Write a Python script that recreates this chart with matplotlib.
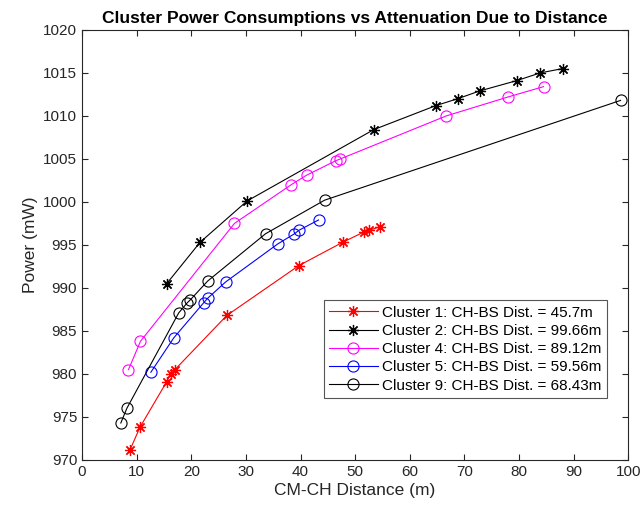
import matplotlib
matplotlib.use("Agg")
import matplotlib.pyplot as plt

plt.rcParams['font.family'] = ['Liberation Sans', 'DejaVu Sans']

# CM-CH distance (m) and power (mW) per cluster
c1_x = [8.8, 10.6, 15.5, 16.2, 17.0, 26.5, 39.7, 47.7, 51.6, 52.5, 54.5]
c1_y = [971.2, 973.8, 979.1, 980.0, 980.5, 986.8, 992.6, 995.3, 996.5, 996.7, 997.1]

c2_x = [15.5, 21.6, 30.2, 53.4, 64.8, 68.8, 72.8, 79.6, 83.9, 88.0]
c2_y = [990.5, 995.3, 1000.1, 1008.4, 1011.2, 1012.0, 1012.9, 1014.1, 1015.0, 1015.5]

c4_x = [8.5, 10.7, 27.9, 38.3, 41.1, 46.5, 47.3, 66.7, 78.0, 84.5]
c4_y = [980.5, 983.8, 997.5, 1002.0, 1003.1, 1004.8, 1005.0, 1010.0, 1012.2, 1013.4]

c5_x = [12.6, 16.8, 22.3, 23.0, 26.3, 35.8, 38.9, 39.7, 43.3]
c5_y = [980.2, 984.2, 988.3, 988.8, 990.7, 995.1, 996.3, 996.7, 997.9]

c9_x = [7.1, 8.2, 17.7, 19.3, 19.8, 23.0, 33.6, 44.4, 98.6]
c9_y = [974.3, 976.0, 987.1, 988.3, 988.6, 990.8, 996.3, 1000.2, 1011.8]

labels = ["Cluster 1: CH-BS Dist. = 45.7m",
          "Cluster 2: CH-BS Dist. = 99.66m",
          "Cluster 4: CH-BS Dist. = 89.12m",
          "Cluster 5: CH-BS Dist. = 59.56m",
          "Cluster 9: CH-BS Dist. = 68.43m"]

star = (8, 2, 0)  # matlab-like asterisk

fig = plt.figure(figsize=(6.41, 5.09), dpi=100)
ax = fig.add_axes([0.128, 0.0963, 0.852, 0.845])

ax.plot(c1_x, c1_y, color='red', marker=star, markersize=8, linewidth=0.8,
        markeredgewidth=0.9, label=labels[0])
ax.plot(c2_x, c2_y, color='black', marker=star, markersize=8, linewidth=0.8,
        markeredgewidth=0.9, label=labels[1])
ax.plot(c4_x, c4_y, color='magenta', marker='o', markersize=8, linewidth=0.8,
        markerfacecolor='none', markeredgewidth=0.8, label=labels[2])
ax.plot(c5_x, c5_y, color='blue', marker='o', markersize=8, linewidth=0.8,
        markerfacecolor='none', markeredgewidth=0.8, label=labels[3])
ax.plot(c9_x, c9_y, color='black', marker='o', markersize=8, linewidth=0.8,
        markerfacecolor='none', markeredgewidth=0.8, label=labels[4])

ax.set_xlim(0, 100)
ax.set_ylim(970, 1020)
ax.set_xticks(range(0, 101, 10))
ax.set_yticks(range(970, 1021, 5))
ax.tick_params(direction='in', top=True, right=True, labelsize=11, length=4,
               colors='#262626', labelcolor='#262626')
for s in ax.spines.values():
    s.set_linewidth(0.8)
    s.set_color('#262626')

ax.set_xlabel("CM-CH Distance (m)", fontsize=12.5, color='#262626', labelpad=3)
ax.set_ylabel("Power (mW)", fontsize=12.5, color='#262626', labelpad=4)
ax.set_title("Cluster Power Consumptions vs Attenuation Due to Distance",
             fontsize=12.5, fontweight='bold', pad=5)

leg = ax.legend(loc='lower right', bbox_to_anchor=(0.9615, 0.144), fontsize=11,
                fancybox=False, edgecolor='#555555', framealpha=1,
                handlelength=3.2, borderpad=0.35,
                labelspacing=0.28, handletextpad=0.3, borderaxespad=0)
leg.get_frame().set_linewidth(0.8)

fig.savefig("out.png", dpi=100)
